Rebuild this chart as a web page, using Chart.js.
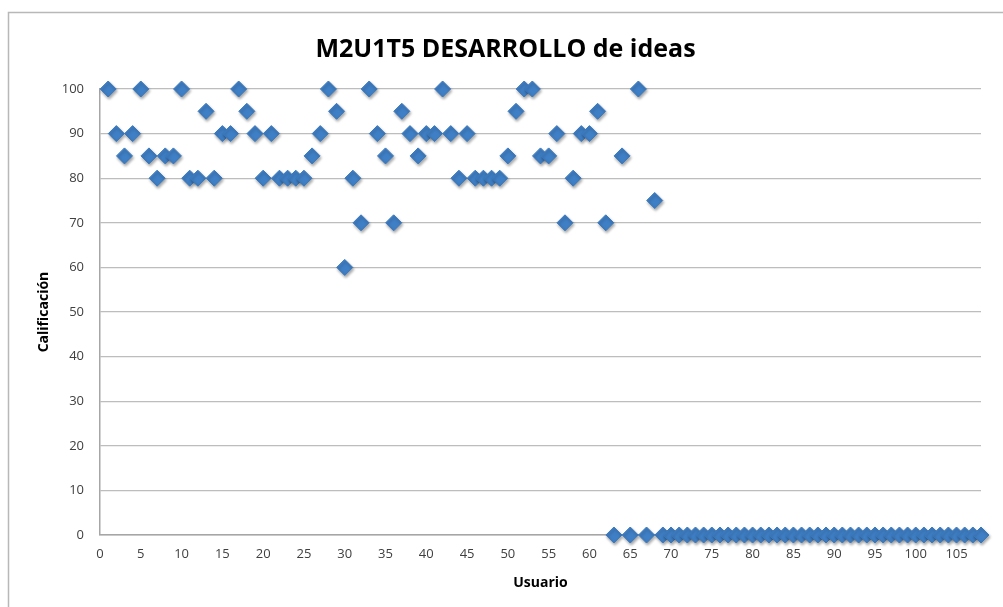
<!DOCTYPE html>
<html>
<head>
<meta charset="utf-8">
<script src="https://cdn.jsdelivr.net/npm/chart.js@4.4.1/dist/chart.umd.min.js"></script>
<style>
  html, body { margin: 0; padding: 0; background: #fff; }
  #wrap { position: relative; width: 1003px; height: 607px; }
</style>
</head>
<body>
<div id="wrap"><canvas id="chart" width="1003" height="607"></canvas></div>
<script>
// chart data
const titulo = 'M2U1T5 DESARROLLO de ideas';
const usuarios = [
  1, 2, 3, 4, 5, 6, 7, 8, 9, 10,
  11, 12, 13, 14, 15, 16, 17, 18, 19, 20,
  21, 22, 23, 24, 25, 26, 27, 28, 29, 30,
  31, 32, 33, 34, 35, 36, 37, 38, 39, 40,
  41, 42, 43, 44, 45, 46, 47, 48, 49, 50,
  51, 52, 53, 54, 55, 56, 57, 58, 59, 60,
  61, 62, 63, 64, 65, 66, 67, 68, 69, 70,
  71, 72, 73, 74, 75, 76, 77, 78, 79, 80,
  81, 82, 83, 84, 85, 86, 87, 88, 89, 90,
  91, 92, 93, 94, 95, 96, 97, 98, 99, 100,
  101, 102, 103, 104, 105, 106, 107, 108
];
const calificaciones = [
  100, 90, 85, 90, 100, 85, 80, 85, 85, 100,
  80, 80, 95, 80, 90, 90, 100, 95, 90, 80,
  90, 80, 80, 80, 80, 85, 90, 100, 95, 60,
  80, 70, 100, 90, 85, 70, 95, 90, 85, 90,
  90, 100, 90, 80, 90, 80, 80, 80, 80, 85,
  95, 100, 100, 85, 85, 90, 70, 80, 90, 90,
  95, 70, 0, 85, 0, 100, 0, 75, 0, 0,
  0, 0, 0, 0, 0, 0, 0, 0, 0, 0,
  0, 0, 0, 0, 0, 0, 0, 0, 0, 0,
  0, 0, 0, 0, 0, 0, 0, 0, 0, 0,
  0, 0, 0, 0, 0, 0, 0, 0
];

const fuente = '"Open Sans", Lato, sans-serif';

// build the point list for the scatter
const puntos = usuarios.map((u, i) => ({ x: u, y: calificaciones[i] }));

// outer frame of the Excel chart + soft shadow on markers
const marco = {
  id: 'marco',
  beforeDraw(chart) {
    const ctx = chart.ctx;
    ctx.save();
    ctx.strokeStyle = '#b8b8b8';
    ctx.lineWidth = 1.5;
    ctx.strokeRect(8.5, 12.5, 1100, 700);
    ctx.restore();
  },
  beforeDatasetDraw(chart) {
    const ctx = chart.ctx;
    ctx.save();
    ctx.shadowColor = 'rgba(0,0,0,0.35)';
    ctx.shadowBlur = 3;
    ctx.shadowOffsetX = 1;
    ctx.shadowOffsetY = 2;
  },
  afterDatasetDraw(chart) {
    chart.ctx.restore();
  }
};

var ctx = document.getElementById('chart').getContext('2d');
var grafico = new Chart(ctx, {
  type: 'scatter',
  data: {
    datasets: [{
      label: 'Calificación',
      data: puntos,
      pointStyle: 'rectRot',
      pointRadius: 8,
      pointHoverRadius: 8,
      backgroundColor: '#3f7fc5',
      borderColor: '#3a78bd',
      borderWidth: 1,
      clip: false
    }]
  },
  options: {
    responsive: false,
    animation: false,
    events: [],
    layout: { padding: { left: 30, right: 22, top: 0, bottom: 7 } },
    plugins: {
      legend: { display: false },
      tooltip: { enabled: false },
      title: {
        display: true,
        text: titulo,
        color: '#000',
        font: { family: fuente, size: 25, weight: 'bold' },
        padding: { top: 35, bottom: 24 }
      }
    },
    scales: {
      x: {
        type: 'linear',
        min: 0,
        max: 108,
        afterFit(scale) { scale.height = 65; },
        border: { display: true, color: '#a6a6a6', width: 1.5 },
        grid: { display: false, drawTicks: false },
        ticks: {
          stepSize: 5,
          includeBounds: false,
          padding: 11,
          color: '#404040',
          font: { family: fuente, size: 13 }
        },
        title: {
          display: true,
          text: 'Usuario',
          color: '#000',
          font: { family: fuente, size: 14, weight: 'bold' },
          padding: { bottom: 9 }
        }
      },
      y: {
        min: 0,
        max: 100,
        afterFit(scale) { scale.width = 70; },
        border: { display: true, color: '#a6a6a6', width: 1.5 },
        grid: { color: '#bdbdbd', lineWidth: 1.3, drawTicks: false },
        ticks: {
          stepSize: 10,
          padding: 16,
          color: '#404040',
          font: { family: fuente, size: 13 }
        },
        title: {
          display: true,
          text: 'Calificación',
          color: '#000',
          font: { family: fuente, size: 14, weight: 'bold' },
          padding: { top: 6 }
        }
      }
    }
  },
  plugins: [marco]
});
</script>
</body>
</html>
